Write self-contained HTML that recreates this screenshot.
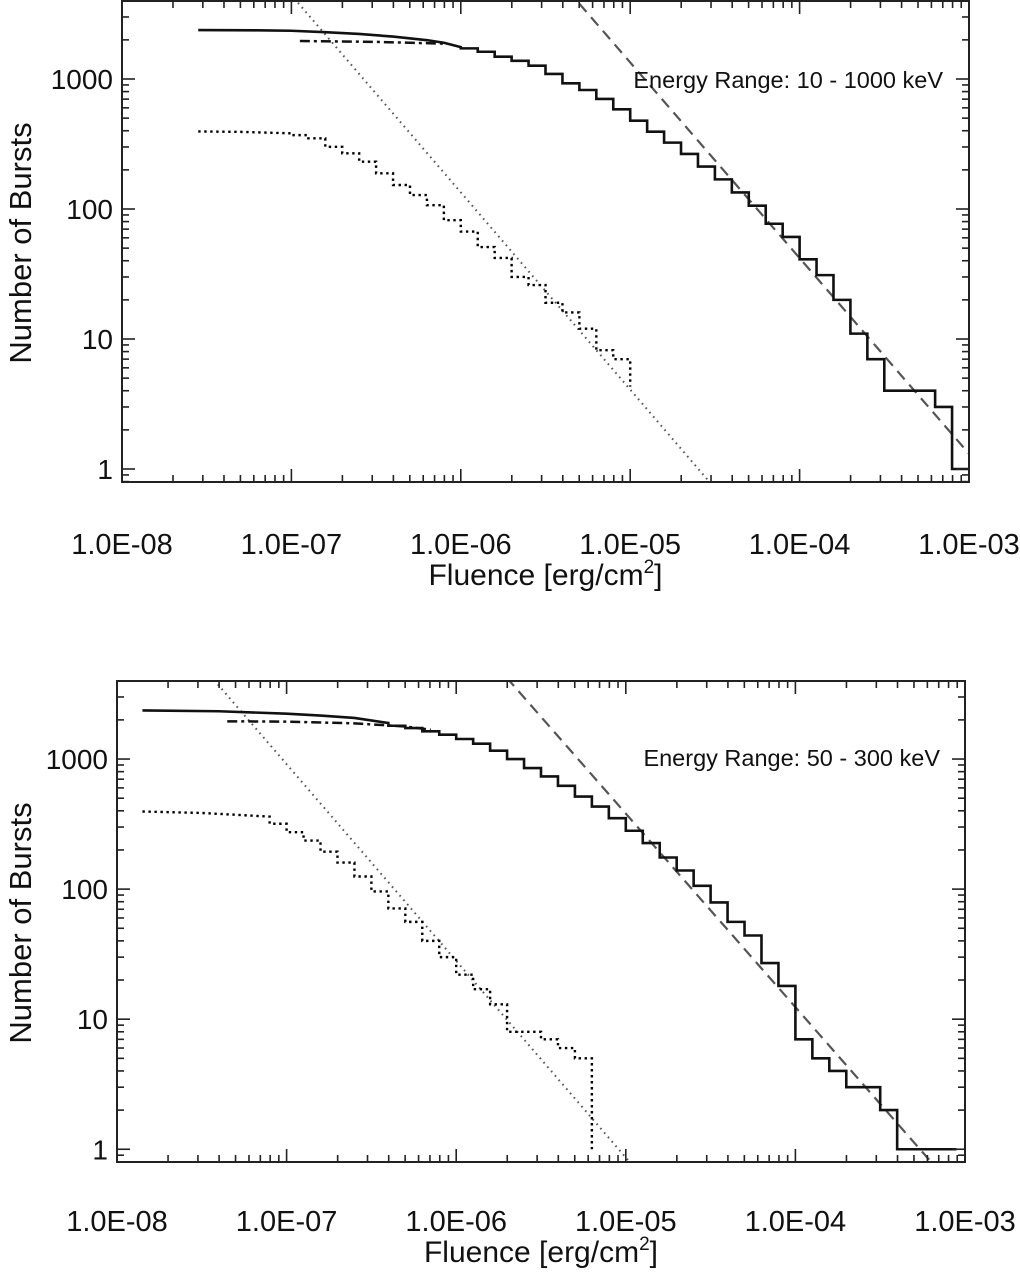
<!DOCTYPE html>
<html><head><meta charset="utf-8"><style>
html,body{margin:0;padding:0;background:#fff;overflow:hidden;}
svg{display:block;font-family:"Liberation Sans",Arial,sans-serif;}
</style></head><body>
<svg id="chart" width="1020" height="1272" viewBox="0 0 1020 1272" xmlns="http://www.w3.org/2000/svg"></svg>
<script>
// ---------- data (log10 fluence, counts) ----------
const xTickLabels = ["1.0E-08","1.0E-07","1.0E-06","1.0E-05","1.0E-04","1.0E-03"];
const yTickValues = [1,10,100,1000];
const yTickLabels = ["1","10","100","1000"];

// Top panel (10 - 1000 keV)
const topSolidSmoothF = [-7.55,-7.2,-7.0,-6.8,-6.6,-6.4,-6.2,-6.1,-6.0];
const topSolidSmoothN = [2380,2370,2350,2290,2220,2120,1990,1900,1760];
const topSolidBinStart = -6.0;
const topSolidCounts = [1720,1620,1485,1380,1265,1093,926,823,702,585,478,393,324,265,212,169,134,106,77,61,41,31,20,11,7,4,4,4,3,1];
const topSolidEnd = -3.0;
const topSolidDrop = null;
const topDashDotF = [-6.95,-6.5,-6.1];
const topDashDotN = [1960,1930,1870];
const topDotHistSmoothF = [-7.55,-7.3,-7.0];
const topDotHistSmoothN = [395,392,382];
const topDotHistBinStart = -7.0;
const topDotHistCounts = [370,350,301,268,231,188,153,128,107,82,67,51,42,30,26,19,16,12,8.2,7];
const topDotHistEnd = -5.0;
const topDotHistDrop = 4.3;
const topFitDottedF = [-6.97,-4.53];
const topFitDottedN = [3981,0.79];
const topFitDashedF = [-5.314,-3.07];
const topFitDashedN = [3981,1.67];

// Bottom panel (50 - 300 keV)
const botSolidSmoothF = [-7.85,-7.4,-7.0,-6.8,-6.6,-6.4];
const botSolidSmoothN = [2366,2330,2234,2160,2069,1893];
const botSolidBinStart = -6.4;
const botSolidCounts = [1803,1730,1633,1538,1426,1312,1159,1000,853,735,623,515,431,351,281,226,175,139,106,79,56,44,27,18,7,5,4,3,3,2,1,1,1,1];
const botSolidEnd = -3.05;
const botSolidDrop = null;
const botDashDotF = [-7.35,-7.0,-6.6,-6.3,-6.15];
const botDashDotN = [1950,1940,1880,1780,1680];
const botDotHistSmoothF = [-7.85,-7.5,-7.1];
const botDotHistSmoothN = [395,385,361];
const botDotHistBinStart = -7.1;
const botDotHistCounts = [318,274,236,194,160,125,96,71,56,40,30,22,17,13,8,8,7,6,5];
const botDotHistEnd = -5.2;
const botDotHistDrop = 1;
const botFitDottedF = [-7.423,-4.978];
const botFitDottedN = [3981,0.80];
const botFitDashedF = [-5.685,-3.277];
const botFitDashedN = [3981,1.04];

// ---------- drawing ----------
const NS = "http://www.w3.org/2000/svg";
const svg = document.getElementById("chart");
function mk(tag, attrs, parent){
  const e = document.createElementNS(NS, tag);
  for (const k in attrs) e.setAttribute(k, attrs[k]);
  (parent||svg).appendChild(e);
  return e;
}

function drawPanel(p){
  const g = mk("g", {});
  
  
  const xS = lf => p.x0 + (lf + 8) / 5 * (p.x1 - p.x0);
  const yS = n => p.y1 - (Math.log10(n) - p.ymin) / (p.ymax - p.ymin) * (p.y1 - p.y0);
  const clipId = "clip-" + p.name;
  const defs = mk("defs", {}, g);
  const cp = mk("clipPath", {id: clipId}, defs);
  mk("rect", {x:p.x0, y:p.y0, width:p.x1-p.x0, height:p.y1-p.y0}, cp);
  const plot = mk("g", {"clip-path":"url(#"+clipId+")"}, g);
  
  

  function line(F, N, style, name){
    let d = "";
    for (let i=0;i<F.length;i++) d += (i?"L":"M") + xS(F[i]).toFixed(2) + "," + yS(N[i]).toFixed(2);
    const e = mk("path", Object.assign({d:d, fill:"none"}, style), plot);
    
    
  }
  function steps(sF, sN, start, counts, end, drop, style, name){
    let d = "";
    for (let i=0;i<sF.length;i++) d += (i?"L":"M") + xS(sF[i]).toFixed(2) + "," + yS(sN[i]).toFixed(2);
    for (let i=0;i<counts.length;i++){
      const a = start + i*0.1;
      const b = Math.min(start + (i+1)*0.1, end);
      const y = yS(counts[i]).toFixed(2);
      d += "L" + xS(a).toFixed(2) + "," + y + "L" + xS(b).toFixed(2) + "," + y;
    }
    if (drop !== null) d += "L" + xS(end).toFixed(2) + "," + yS(drop).toFixed(2);
    const e = mk("path", Object.assign({d:d, fill:"none"}, style), plot);
    
    
  }
  function fit(F, N, style, name){
    const slope = (Math.log10(N[1]) - Math.log10(N[0])) / (F[1]-F[0]);
    const fa = -8.5, fb = -2.5;
    const na = Math.pow(10, Math.log10(N[0]) + slope*(fa-F[0]));
    const nb = Math.pow(10, Math.log10(N[0]) + slope*(fb-F[0]));
    line([fa,fb],[na,nb],style,name);
  }
  fit(p.fitDottedF, p.fitDottedN, {stroke:"#555", "stroke-width":2, "stroke-dasharray":"1.6 4.2"}, "powerlaw-fit-faint");
  fit(p.fitDashedF, p.fitDashedN, {stroke:"#555", "stroke-width":2.2, "stroke-dasharray":"11 7"}, "powerlaw-fit-bright");
  steps(p.dhSF, p.dhSN, p.dhStart, p.dhCounts, p.dhEnd, p.dhDrop, {stroke:"#000", "stroke-width":2.4, "stroke-dasharray":"2.4 3.6"}, "faint-burst-histogram");
  line(p.ddF, p.ddN, {stroke:"#111", "stroke-width":2.5, "stroke-dasharray":"10 4 3 4"}, "corrected-distribution");
  steps(p.sSF, p.sSN, p.sStart, p.sCounts, p.sEnd, p.sDrop, {stroke:"#111", "stroke-width":2.6}, "all-burst-histogram");

  const fr = mk("rect", {x:p.x0, y:p.y0, width:p.x1-p.x0, height:p.y1-p.y0, fill:"none", stroke:"#222", "stroke-width":2}, g);
  
  

  const ticks = mk("g", {stroke:"#222", "stroke-width":1.6}, g);
  
  
  for (let dcd=-8; dcd<=-3; dcd++){
    for (let m=1; m<=9; m++){
      const lf = dcd + Math.log10(m);
      if (lf > -3) break;
      const x = xS(lf);
      const len = m===1 ? 13 : 7;
      mk("line", {x1:x, y1:p.y1, x2:x, y2:p.y1-len}, ticks);
      mk("line", {x1:x, y1:p.y0, x2:x, y2:p.y0+len}, ticks);
    }
  }
  for (let dcd=-1; dcd<=3; dcd++){
    for (let m=1; m<=9; m++){
      const n = m*Math.pow(10,dcd);
      const ln = Math.log10(n);
      if (ln < p.ymin || ln > p.ymax) continue;
      const y = yS(n);
      const len = m===1 ? 13 : 7;
      mk("line", {x1:p.x0, y1:y, x2:p.x0+len, y2:y}, ticks);
      mk("line", {x1:p.x1, y1:y, x2:p.x1-len, y2:y}, ticks);
    }
  }
  xTickLabels.forEach((lab,i)=>{
    const t = mk("text", {x:xS(-8+i), y:p.y1+72+p.xLabOff, "text-anchor":"middle", "font-size":29, fill:"#111"}, g);
    t.textContent = lab;
    
    
  });
  yTickValues.forEach((v,i)=>{
    const t = mk("text", {x:p.x0-9, y:yS(v)+10, "text-anchor":"end", "font-size":28, fill:"#111"}, g);
    t.textContent = yTickLabels[i];
    
    
  });
  const xt = mk("text", {x:(p.x0+p.x1)/2, y:p.y1+103+p.xLabOff, "text-anchor":"middle", "font-size":30, fill:"#111"}, g);
  
  
  xt.appendChild(document.createTextNode("Fluence [erg/cm"));
  const sup = mk("tspan", {"font-size":19, dy:-12}, xt);
  sup.textContent = "2";
  const rest = mk("tspan", {dy:12}, xt);
  rest.textContent = "]";
  const yt = mk("text", {x:0, y:0, "text-anchor":"middle", "font-size":31, fill:"#111",
    transform:"translate(31," + p.yTitleY + ") rotate(-90)"}, g);
  yt.textContent = "Number of Bursts";
  
  
  const er = mk("text", {x:p.labelX, y:p.labelY, "text-anchor":"end", "font-size":23.5, fill:"#111"}, g);
  er.textContent = p.label;
  
  
}

drawPanel({name:"top-panel", x0:122, x1:969, y0:1, y1:482, ymin:-0.1, ymax:3.6, xLabOff:0, yTitleY:243,
  label:"Energy Range: 10 - 1000 keV", labelX:943, labelY:88,
  sSF:topSolidSmoothF, sSN:topSolidSmoothN, sStart:topSolidBinStart, sCounts:topSolidCounts, sEnd:topSolidEnd, sDrop:topSolidDrop,
  ddF:topDashDotF, ddN:topDashDotN,
  dhSF:topDotHistSmoothF, dhSN:topDotHistSmoothN, dhStart:topDotHistBinStart, dhCounts:topDotHistCounts, dhEnd:topDotHistEnd, dhDrop:topDotHistDrop,
  fitDottedF:topFitDottedF, fitDottedN:topFitDottedN, fitDashedF:topFitDashedF, fitDashedN:topFitDashedN});
drawPanel({name:"bottom-panel", x0:117, x1:965, y0:681, y1:1162, ymin:-0.098, ymax:3.6, xLabOff:-3, yTitleY:923,
  label:"Energy Range: 50 - 300 keV", labelX:940, labelY:766,
  sSF:botSolidSmoothF, sSN:botSolidSmoothN, sStart:botSolidBinStart, sCounts:botSolidCounts, sEnd:botSolidEnd, sDrop:botSolidDrop,
  ddF:botDashDotF, ddN:botDashDotN,
  dhSF:botDotHistSmoothF, dhSN:botDotHistSmoothN, dhStart:botDotHistBinStart, dhCounts:botDotHistCounts, dhEnd:botDotHistEnd, dhDrop:botDotHistDrop,
  fitDottedF:botFitDottedF, fitDottedN:botFitDottedN, fitDashedF:botFitDashedF, fitDashedN:botFitDashedN});
</script>
</body></html>
